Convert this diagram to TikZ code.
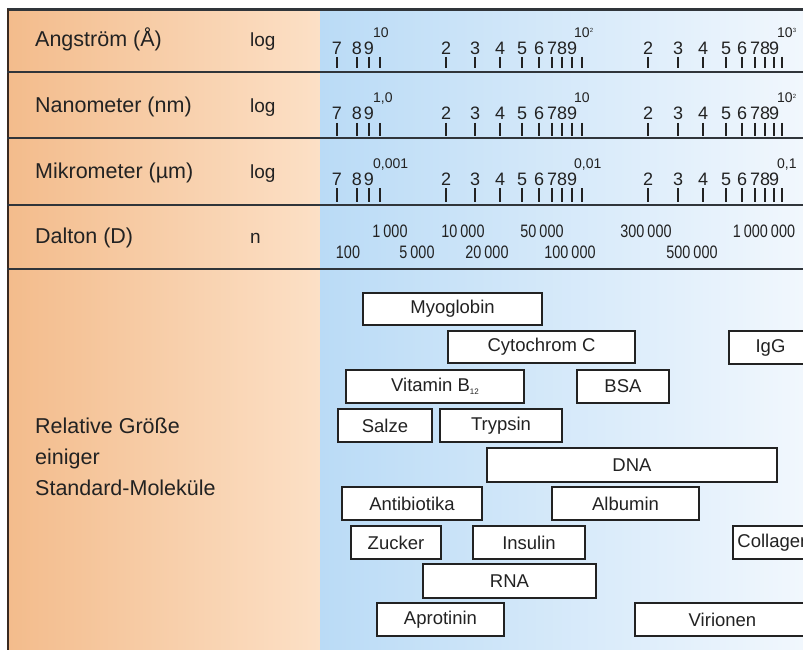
\documentclass[tikz,border=0pt]{standalone}
\usepackage{fontspec}
\setmainfont{Liberation Sans}
\newfontfamily\narrowf[FakeStretch=0.8]{Liberation Sans}
\definecolor{peachL}{RGB}{243,188,140}
\definecolor{peachR}{RGB}{252,224,198}
\definecolor{blueL}{RGB}{186,219,246}
\definecolor{blueR}{RGB}{241,247,253}
\definecolor{txt}{HTML}{222222}
\definecolor{linec}{HTML}{30353A}
\definecolor{leftc}{HTML}{3A2A20}
\definecolor{boxc}{HTML}{222222}
\tikzset{
  lab/.style={anchor=base west, inner sep=0, text=txt, font=\fontsize{21.5}{25}\selectfont},
  loglab/.style={anchor=base west, inner sep=0, text=txt, font=\fontsize{19}{22}\selectfont},
  sep/.style={draw=linec, line width=2.4},
  tick/.style={draw=txt, line width=2},
  dig/.style={anchor=base, inner sep=0, text=txt, font=\fontsize{18}{20}\selectfont},
  sup/.style={anchor=base west, inner sep=0, text=txt, font=\fontsize{14}{16}\selectfont},
  dal/.style={anchor=base, inner sep=0, text=txt, font=\narrowf\fontsize{18}{20}\selectfont},
  mbox/.style={draw=boxc, line width=1.9, fill=white, inner sep=0, text=txt, font=\fontsize{18.5}{20}\selectfont}
}
\newcommand\tinysup[1]{\raisebox{5pt}{\fontsize{6}{6}\selectfont #1}}
% row scale: #1 name, #2 sup baseline, #3 digit baseline, #4 tick top, #5 tick bottom, #6 #7 #8 sup labels
\newcommand\myscalerow[8]{%
  \foreach \xx [count=\i] in {337,357,369,380,446,475,500,522,539,552,562,572,582,648,678,703,726,742,755,765,774,782}
    \draw[tick] (\xx,#4) -- (\xx,#5);
  \foreach \xx/\d [count=\i] in {337/7,357/8,369/9,446/2,475/3,500/4,522/5,539/6,552/7,562/8,572/9,648/2,678/3,703/4,726/5,742/6,755/7,765/8,774/9}
    \node[dig] (#1d\i) at (\xx,#3) {\d};
  \node[sup] (#1s1) at (373,#2) {#6};
  \node[sup] (#1s2) at (574,#2) {#7};
  \node[sup] (#1s3) at (777,#2) {#8};
}
\begin{document}
\begin{tikzpicture}[x=1pt,y=-1pt]
\useasboundingbox (0,0) rectangle (803,650);
\clip (0,0) rectangle (803,650);
\fill[white] (0,0) rectangle (803,650);
\shade[left color=peachL, right color=peachR] (8,10) rectangle (320,650);
\shade[left color=blueL, right color=blueR] (320,10) rectangle (803,650);
% frame lines
\draw[draw=linec, line width=3] (7,10) -- (803,10);
\draw[draw=leftc, line width=2] (7.5,9) -- (7.5,650);
\draw[sep] (7,72) -- (803,72);
\draw[sep] (7,138) -- (803,138);
\draw[sep] (7,205) -- (803,205);
\draw[sep] (7,269) -- (803,269);
% left labels
\node[lab] (ang) at (35,47) {Angström (Å)};
\node[loglab] (anglog) at (250,47) {log};
\node[lab] (nm) at (35,113) {Nanometer (nm)};
\node[loglab] (nmlog) at (250,113) {log};
\node[lab] (um) at (35,178) {Mikrometer (µm)};
\node[loglab] (umlog) at (250,178) {log};
\node[lab] (da) at (35,243) {Dalton (D)};
\node[loglab] (dan) at (250,243) {n};
\node[lab] (rel1) at (35,433) {Relative Größe};
\node[lab] (rel2) at (35,464) {einiger};
\node[lab] (rel3) at (35,495) {Standard-Moleküle};
% scales
\myscalerow{a}{38}{55}{57}{68}{10}{10\tinysup{2}}{10\tinysup{3}}
\myscalerow{b}{103}{120}{123}{136}{1,0}{10}{10\tinysup{2}}
\myscalerow{c}{168}{185}{188}{202}{0,001}{0,01}{0,1}
% Dalton
\node[dal] (d1) at (390,237) {1\,000};
\node[dal] (d2) at (463,237) {10\,000};
\node[dal] (d3) at (542,237) {50\,000};
\node[dal] (d4) at (646,237) {300\,000};
\node[dal] (d5) at (764,237) {1\,000\,000};
\node[dal] (e1) at (348,258) {100};
\node[dal] (e2) at (417,258) {5\,000};
\node[dal] (e3) at (487,258) {20\,000};
\node[dal] (e4) at (570,258) {100\,000};
\node[dal] (e5) at (692,258) {500\,000};
% molecule boxes
\node[mbox, minimum width=179, minimum height=32] (myo) at (452.5,309) {Myoglobin};
\node[mbox, minimum width=187, minimum height=32] (cyt) at (541.5,347) {Cytochrom C};
\node[mbox, minimum width=83, minimum height=33] (igg) at (770.5,347.5) {IgG};
\node[mbox, minimum width=178, minimum height=33] (vit) at (435,386.5) {Vitamin B\raisebox{-3pt}{\fontsize{8}{8}\selectfont 12}};
\node[mbox, minimum width=92, minimum height=33] (bsa) at (623,386.5) {BSA};
\node[mbox, minimum width=94, minimum height=33] (sal) at (385,425.5) {Salze};
\node[mbox, minimum width=122, minimum height=33] (try) at (501,425.5) {Trypsin};
\node[mbox, minimum width=290, minimum height=34] (dna) at (632,465) {DNA};
\node[mbox, minimum width=140, minimum height=33] (ant) at (412,503.5) {Antibiotika};
\node[mbox, minimum width=147, minimum height=33] (alb) at (625.5,503.5) {Albumin};
\node[mbox, minimum width=90, minimum height=33] (zuc) at (396,542.5) {Zucker};
\node[mbox, minimum width=112, minimum height=33] (ins) at (529,542.5) {Insulin};
\node[mbox, minimum width=82, minimum height=33] (col) at (774,542.5) {Collagen};
\node[mbox, minimum width=173, minimum height=34] (rna) at (509.5,581) {RNA};
\node[mbox, minimum width=127, minimum height=33] (apr) at (440.5,619.5) {Aprotinin};
\node[mbox, minimum width=175, minimum height=33] (vir) at (722.5,619.5) {Virionen};
\end{tikzpicture}
\end{document}
